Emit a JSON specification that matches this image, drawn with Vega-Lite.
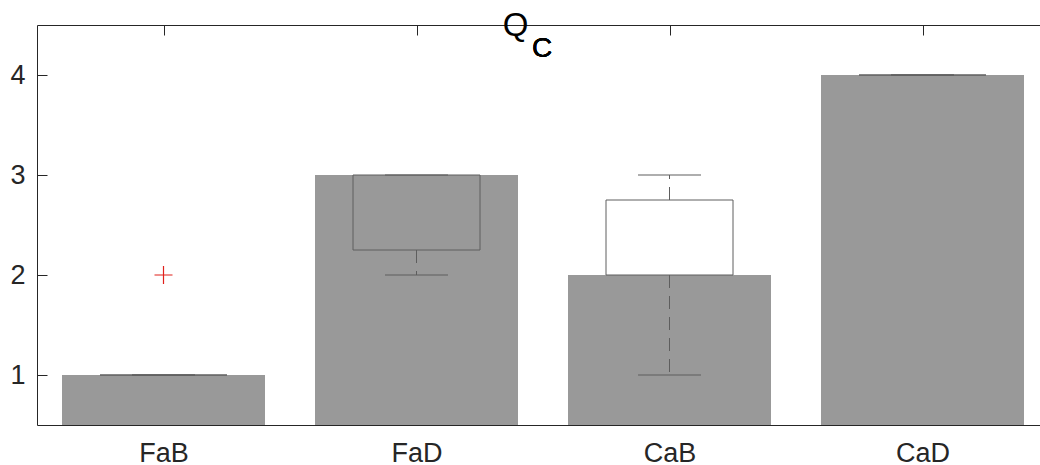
{
  "$schema": "https://vega.github.io/schema/vega-lite/v6.json",
  "width": 1003,
  "height": 400,
  "autosize": {"type": "none"},
  "padding": {"left": 37, "top": 25, "right": 0, "bottom": 40},
  "background": "white",
  "config": {"view": {"stroke": null}, "font": "Liberation Sans"},
  "title": {
    "text": "Q",
    "anchor": "middle",
    "align": "center",
    "baseline": "alphabetic",
    "dx": -23,
    "offset": -44,
    "font": "Liberation Sans",
    "fontSize": 33,
    "fontWeight": "normal",
    "color": "#000000"
  },
  "datasets": {
    "stats": [
      {"cat": "FaB", "i": 1, "mean": 1, "q1": 1, "q3": 1, "lo": 1, "hi": 1},
      {"cat": "FaD", "i": 2, "mean": 3, "q1": 2.25, "q3": 3, "lo": 2, "hi": 3},
      {"cat": "CaB", "i": 3, "mean": 2, "q1": 2, "q3": 2.75, "lo": 1, "hi": 3},
      {"cat": "CaD", "i": 4, "mean": 4, "q1": 4, "q3": 4, "lo": 4, "hi": 4}
    ],
    "outliers": [
      {"cat": "FaB", "i": 1, "v": 2}
    ]
  },
  "data": {"name": "stats"},
  "resolve": {"axis": {"x": "independent"}},
  "layer": [
    {
      "mark": {"type": "bar", "color": "#999999", "width": 203, "clip": true},
      "encoding": {
        "x": {
          "field": "i", "type": "quantitative",
          "scale": {"domain": [0.5, 4.4644], "nice": false, "zero": false, "padding": 0},
          "axis": {
            "orient": "bottom", "values": [1, 2, 3, 4], "title": null, "grid": false,
            "labelExpr": "['', 'FaB', 'FaD', 'CaB', 'CaD'][datum.value]",
            "labelFontSize": 27, "labelColor": "#262626", "labelFont": "Liberation Sans",
            "tickSize": -10, "tickColor": "#262626", "labelPadding": 25,
            "domainColor": "#262626", "labelFlush": false
          }
        },
        "y": {
          "field": "mean", "type": "quantitative",
          "scale": {"domain": [0.5, 4.5], "nice": false, "zero": false},
          "axis": {
            "values": [1, 2, 3, 4], "format": "d", "title": null, "grid": false,
            "labelFontSize": 27, "labelColor": "#262626", "labelFont": "Liberation Sans",
            "tickSize": -10, "tickColor": "#262626", "labelPadding": 22,
            "domainColor": "#262626"
          }
        }
      }
    },
    {
      "mark": {"type": "bar", "width": 127, "fillOpacity": 0, "fill": "white", "stroke": "#5e5e5e", "strokeWidth": 1},
      "encoding": {
        "x": {
          "field": "i", "type": "quantitative",
          "axis": {
            "orient": "top", "values": [1, 2, 3, 4], "title": null, "grid": false,
            "labels": false, "tickSize": -10, "tickColor": "#262626", "domainColor": "#262626"
          }
        },
        "y": {"field": "q1", "type": "quantitative"},
        "y2": {"field": "q3"}
      }
    },
    {
      "mark": {"type": "rule", "color": "#5e5e5e", "strokeWidth": 1, "strokeDash": [13, 8]},
      "encoding": {
        "x": {"field": "i", "type": "quantitative", "axis": null},
        "y": {"field": "q3", "type": "quantitative"},
        "y2": {"field": "hi"}
      }
    },
    {
      "mark": {"type": "rule", "color": "#5e5e5e", "strokeWidth": 1, "strokeDash": [13, 8]},
      "encoding": {
        "x": {"field": "i", "type": "quantitative", "axis": null},
        "y": {"field": "q1", "type": "quantitative"},
        "y2": {"field": "lo"}
      }
    },
    {
      "mark": {"type": "tick", "orient": "horizontal", "size": 63, "thickness": 1, "color": "#5e5e5e", "opacity": 1},
      "encoding": {
        "x": {"field": "i", "type": "quantitative", "axis": null},
        "y": {"field": "hi", "type": "quantitative"}
      }
    },
    {
      "mark": {"type": "tick", "orient": "horizontal", "size": 63, "thickness": 1, "color": "#5e5e5e", "opacity": 1},
      "encoding": {
        "x": {"field": "i", "type": "quantitative", "axis": null},
        "y": {"field": "lo", "type": "quantitative"}
      }
    },
    {
      "data": {"name": "outliers"},
      "mark": {"type": "point", "shape": "M-1,0L1,0M0,-1L0,1", "size": 324, "filled": false, "stroke": "#e0201b", "strokeWidth": 1.2, "opacity": 1},
      "encoding": {
        "x": {"field": "i", "type": "quantitative", "axis": null},
        "y": {"field": "v", "type": "quantitative"}
      }
    },
    {
      "mark": {"type": "text", "text": "C", "font": "Liberation Sans", "fontSize": 28, "color": "#000000", "align": "center", "baseline": "alphabetic"},
      "encoding": {
        "x": {"datum": 2.496, "type": "quantitative", "axis": null},
        "y": {"datum": 4.185, "type": "quantitative"}
      }
    }
  ]
}
